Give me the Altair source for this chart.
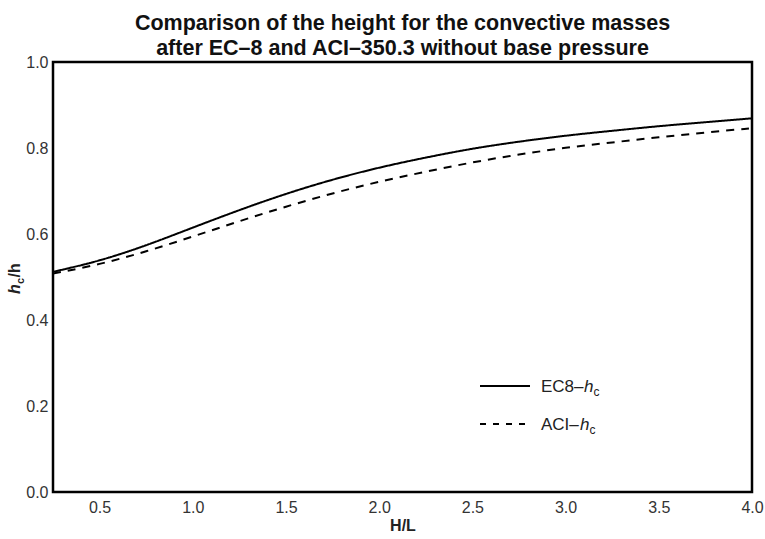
import altair as alt
import pandas as pd

# ---- data ----
hl = [0.25, 0.5, 0.75, 1.0, 1.25, 1.5, 1.75, 2.0, 2.25, 2.5, 2.75, 3.0, 3.25, 3.5, 3.75, 4.0]
ec8 = [0.512, 0.537, 0.573, 0.615, 0.656, 0.694, 0.727, 0.755, 0.778, 0.799, 0.815, 0.829, 0.840, 0.851, 0.860, 0.869]
aci = [0.508, 0.529, 0.559, 0.594, 0.630, 0.664, 0.695, 0.722, 0.745, 0.767, 0.785, 0.801, 0.813, 0.825, 0.836, 0.846]
series = ["EC8", "ACI"]
x_ticks = [0.5, 1.0, 1.5, 2.0, 2.5, 3.0, 3.5, 4.0]
y_ticks = [0.0, 0.2, 0.4, 0.6, 0.8, 1.0]
title_lines = ["Comparison of the height for the convective masses",
               "after EC\u20138 and ACI\u2013350.3 without base pressure"]

df = pd.DataFrame({
    "H/L": hl + hl,
    "value": ec8 + aci,
    "series": [series[0]] * len(hl) + [series[1]] * len(hl),
})

FONT = "Liberation Sans"
W, H = 699, 430
one = alt.Data(values=[{}])

lines = alt.Chart(df).mark_line(color="black", strokeWidth=2, interpolate="basis", clip=True).encode(
    x=alt.X("H/L:Q",
            scale=alt.Scale(domain=[0.25, 4.0], nice=False, zero=False),
            axis=alt.Axis(values=x_ticks, format=".1f", title="H/L", ticks=False, domain=False, grid=False,
                          labelFont=FONT, labelFontSize=16, labelColor="#333", labelPadding=7, labelFlush=False,
                          titleFont=FONT, titleFontSize=16, titleFontWeight="bold", titleColor="#222",
                          titlePadding=2)),
    y=alt.Y("value:Q",
            scale=alt.Scale(domain=[0, 1], nice=False),
            axis=alt.Axis(values=y_ticks, format=".1f", title=None, ticks=False, domain=False, grid=False,
                          labelFont=FONT, labelFontSize=16, labelColor="#333", labelPadding=5, labelFlush=False)),
    strokeDash=alt.StrokeDash("series:N", scale=alt.Scale(domain=series, range=[[1, 0], [8, 7]]), legend=None),
)

def txt(s, x, y, size=17, style="normal", weight="normal", angle=0, color="#222"):
    kw = dict(text=s, font=FONT, fontSize=size, fontStyle=style, fontWeight=weight, align="left",
              baseline="alphabetic", color=color)
    if angle:
        kw["angle"] = angle
    return alt.Chart(one).mark_text(**kw).encode(x=alt.value(x), y=alt.value(y))

# y axis title h_c/h
ytitle = [
    txt("h", -33, 232, size=16, style="italic", weight="bold", angle=270),
    txt("c", -29, 222, size=11, weight="bold", angle=270),
    txt("/h", -33, 215.5, size=16, weight="bold", angle=270),
]

# legend
leg_solid = alt.Chart(one).mark_rule(color="black", strokeWidth=2).encode(
    x=alt.value(427), x2=alt.value(477), y=alt.value(324))
leg_dash = alt.Chart(one).mark_rule(color="black", strokeWidth=2, strokeDash=[6, 7]).encode(
    x=alt.value(427), x2=alt.value(477), y=alt.value(362))
legend = [
    leg_solid, leg_dash,
    txt("EC8\u2013", 488, 330), txt("h", 531, 330, style="italic"), txt("c", 540.5, 333.5, size=12),
    txt("ACI\u2013", 488, 368), txt("h", 527, 368, style="italic"), txt("c", 536.5, 371.5, size=12),
]

chart = alt.layer(lines, *ytitle, *legend).properties(
    width=W, height=H,
    title=alt.Title(title_lines, font=FONT, fontSize=21.5, fontWeight="bold", color="#111",
                    anchor="middle", offset=-5, lineHeight=25),
    autosize=alt.AutoSizeParams(type="none"),
    padding={"left": 53, "top": 62, "right": 13, "bottom": 47},
).configure(background="white").configure_view(stroke="black", strokeWidth=2.5)

chart.save("out.html", embed_options={"renderer": "svg", "actions": False})
